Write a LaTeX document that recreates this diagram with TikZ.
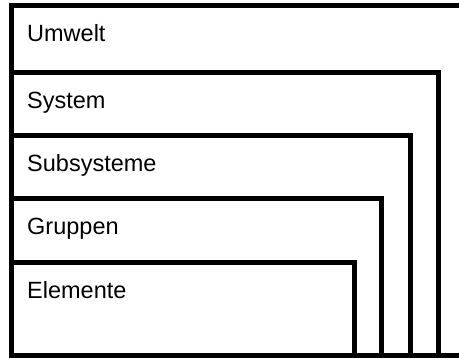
\documentclass[tikz,border=0pt]{standalone}
\usepackage{fontspec}
\setmainfont{Liberation Sans}
\begin{document}
\begin{tikzpicture}[x=1pt,y=-1pt,
  frame/.style={draw=black,line width=5pt,line join=miter},
  lbl/.style={anchor=base west,inner sep=0pt,font=\fontsize{23.5}{28}\selectfont}]
\useasboundingbox (0,0) rectangle (459,358);
\clip (0,0) rectangle (459,358);
\fill[white] (0,0) rectangle (459,358);
\draw[frame] (11,6) rectangle (468,355.5);
\draw[frame] (11,355.5) |- (438,73) -- (438,355.5);
\draw[frame] (11,355.5) |- (410.5,135.7) -- (410.5,355.5);
\draw[frame] (11,355.5) |- (381.5,198.5) -- (381.5,355.5);
\draw[frame] (11,355.5) |- (354,262.5) -- (354,355.5);
\node[lbl] (umwelt) at (27,42) {Umwelt};
\node[lbl] (system) at (27,108.5) {System};
\node[lbl] (subsysteme) at (27,172) {Subsysteme};
\node[lbl] (gruppen) at (27,235) {Gruppen};
\node[lbl] (elemente) at (27,299) {Elemente};
\end{tikzpicture}
\end{document}
